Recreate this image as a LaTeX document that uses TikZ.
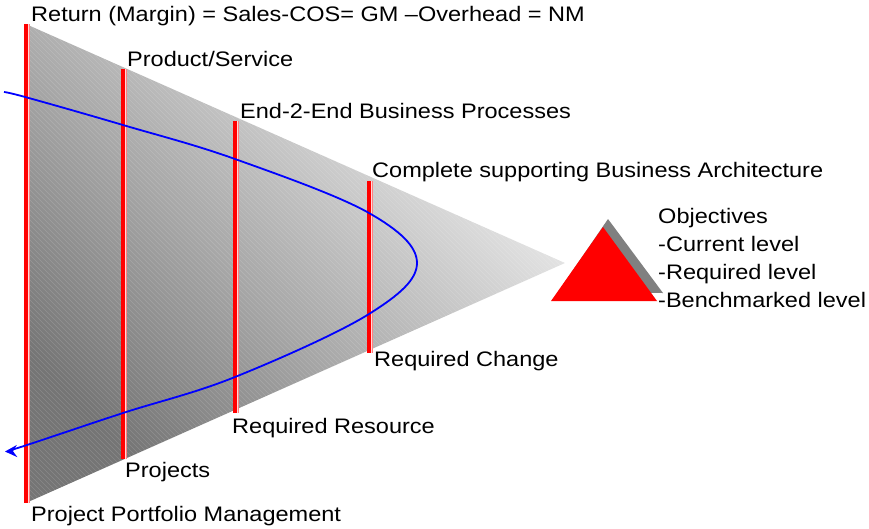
\documentclass[tikz,border=0pt]{standalone}
\usepackage{fontspec}
\setmainfont{Liberation Sans}[FakeStretch=1.12]
\usetikzlibrary{arrows.meta}

\begin{document}
\begin{tikzpicture}[x=1pt,y=-1pt,
 lbl/.style={anchor=base west,inner sep=0pt,font=\fontsize{21}{25}\selectfont},
 hatch/.style={white,opacity=.14,line width=.6pt}]
 \useasboundingbox (0,0) rectangle (869,528);
 % funnel
 \coordinate (tl) at (28,25);
 \coordinate (bl) at (28,502);
 \coordinate (tip) at (565,263);
 \shade[shading=axis,top color=black!5,bottom color=black!54,shading angle=-45]
 (tl)--(tip)--(bl)--cycle;
 \begin{scope}
 \clip (tl)--(tip)--(bl)--cycle;
 \foreach \a in {-500,-495,...,570}
 \draw[hatch] (\a,0)--++(540,540);
 \end{scope}
 % red bars
 \foreach \bx/\bt/\bb in {24/24/503,121/69/459,233/121/413,367/181/353}{
 \fill[red] (\bx,\bt) rectangle (\bx+4,\bb);
 \fill[red!15] (\bx+4,\bt) rectangle (\bx+5,\bb);
 \fill[red!50] (\bx+5,\bt) rectangle (\bx+6.2,\bb);
 }
 % blue curve
 \draw[blue,line width=1.8pt,-{Stealth[length=12pt,width=12pt,inset=4pt]}]
 plot[smooth,tension=.6] coordinates {(4,92) (27,97.5) (123,125) (235,159)
 (369,213) (417,263) (369,314) (235,377) (123,413) (27,445) (5,451.5)};
 % objectives triangle
 \fill[black!50] (558,292)--(608,219)--(663,293)--cycle;
 \fill[red] (551,301)--(603,227)--(657,301)--cycle;
 \path
 (31,21) node[lbl] (ret) {Return (Margin) = Sales-COS= GM –Overhead = NM}
 (127,66) node[lbl] (prod) {Product/Service}
 (240,118) node[lbl] (e2e) {End-2-End Business Processes}
 (372,177) node[lbl] (arch) {Complete supporting Business Architecture}
 (374,366.5) node[lbl] (chg) {Required Change}
 (232,433) node[lbl] (res) {Required Resource}
 (125,477) node[lbl] (proj) {Projects}
 (31,521.5) node[lbl] (ppm) {Project Portfolio Management}
 (658,223) node[lbl] (obj) {Objectives}
 ++(0,28.3) node[lbl] (cur) {-Current level}
 ++(0,28.3) node[lbl] (req) {-Required level}
 ++(0,28.3) node[lbl] (bench) {-Benchmarked level};
\end{tikzpicture}
\end{document}
